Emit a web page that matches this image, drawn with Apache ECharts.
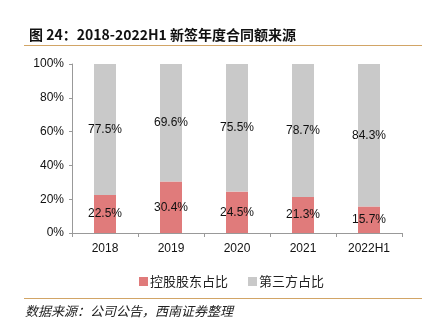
<!DOCTYPE html>
<html>
<head>
<meta charset="utf-8">
<script src="https://cdn.jsdelivr.net/npm/echarts@6/dist/echarts.min.js"></script>
<style>
html,body{margin:0;padding:0;background:#fff;}
#c{width:427px;height:328px;}
</style>
</head>
<body>
<div id="c"></div>
<script>
const categories = ['2018', '2019', '2020', '2021', '2022H1'];
const controlling = [22.5, 30.4, 24.5, 21.3, 15.7];
const thirdParty = [77.5, 69.6, 75.5, 78.7, 84.3];
const yTicks = ['0%', '20%', '40%', '60%', '80%', '100%'];
const seriesNames = ['控股股东占比', '第三方占比'];

const chart = echarts.init(document.getElementById('c'), null, {renderer: 'canvas'});
const labelFont = {fontFamily: 'Liberation Sans, Arial, sans-serif', fontSize: 12, color: '#111'};
chart.setOption({
  animation: false,
  backgroundColor: '#fff',
  title: {
    text: '图 24：2018-2022H1 新签年度合同额来源',
    left: 24, top: 23,
    textStyle: {fontFamily: 'Noto Sans CJK SC, sans-serif', fontSize: 14, fontWeight: 'bold', color: '#111'}
  },
  graphic: [
    {type: 'line', shape: {x1: 24, y1: 45.5, x2: 422, y2: 45.5}, style: {stroke: '#d2a566', lineWidth: 1.2}},
    {type: 'line', shape: {x1: 24, y1: 298.5, x2: 422, y2: 298.5}, style: {stroke: '#d2a566', lineWidth: 1.2}},
    {type: 'text', left: 25, top: 305, style: {text: '数据来源：公司公告，西南证券整理', fontFamily: 'Noto Sans CJK SC, sans-serif', fontSize: 13, fontStyle: 'italic', fill: '#222'}}
  ],
  legend: {
    data: seriesNames,
    top: 270, left: 134,
    itemWidth: 9, itemHeight: 9, itemGap: 20,
    icon: 'rect',
    textStyle: {fontFamily: 'Noto Sans CJK SC, sans-serif', fontSize: 13, color: '#222', padding: [0, 0, 0, -3]}
  },
  grid: {left: 72, right: 25, top: 64, bottom: 95},
  xAxis: {
    type: 'category',
    data: categories,
    axisLine: {lineStyle: {color: '#999'}},
    axisTick: {show: true, alignWithLabel: false, length: 4, lineStyle: {color: '#999'}},
    axisLabel: {fontFamily: 'Liberation Sans, Arial, sans-serif', fontSize: 12, color: '#111', margin: 10}
  },
  yAxis: {
    type: 'value',
    min: 0, max: 100, interval: 20,
    axisLine: {show: true, lineStyle: {color: '#999'}},
    axisTick: {show: true, length: 3, lineStyle: {color: '#999'}},
    splitLine: {show: false},
    axisLabel: {
      fontFamily: 'Liberation Sans, Arial, sans-serif', fontSize: 12, color: '#111', margin: 8,
      formatter: (v) => yTicks[Math.round(v / 20)]
    }
  },
  series: [
    {
      name: seriesNames[0], type: 'bar', stack: 'a', data: controlling, barWidth: 22,
      itemStyle: {color: '#e07b7b'},
      label: {show: true, position: 'inside', formatter: (p) => p.value.toFixed(1) + '%', ...labelFont}
    },
    {
      name: seriesNames[1], type: 'bar', stack: 'a', data: thirdParty, barWidth: 22,
      itemStyle: {color: '#c9c9c9'},
      label: {show: true, position: 'inside', formatter: (p) => p.value.toFixed(1) + '%', ...labelFont}
    }
  ]
});
</script>
</body>
</html>
